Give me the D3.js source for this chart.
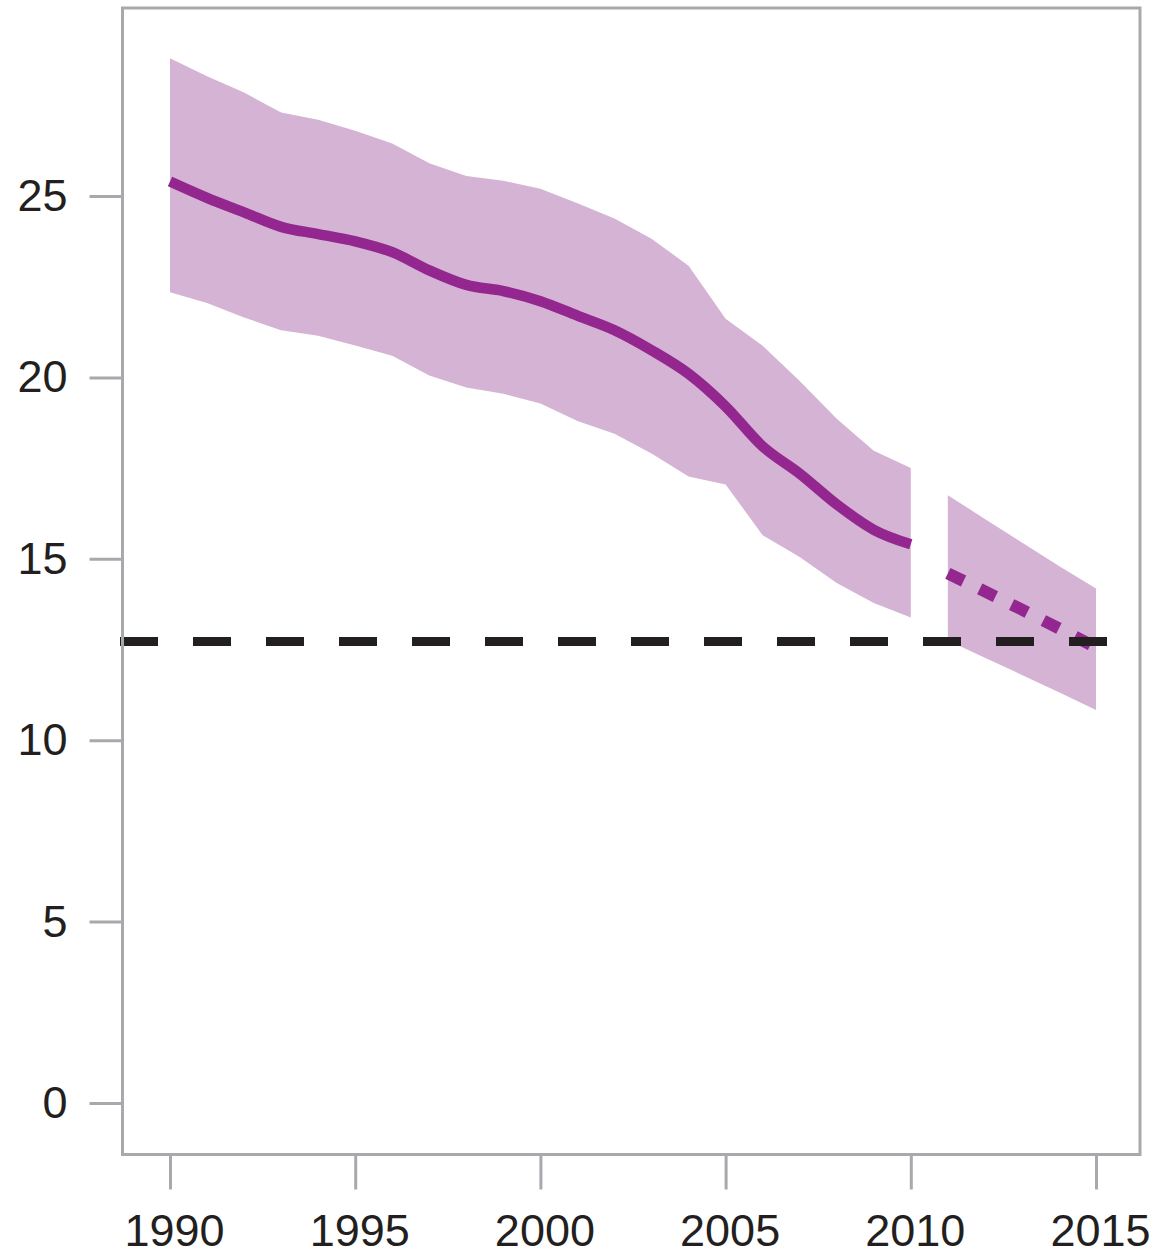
<!DOCTYPE html>
<html><head><meta charset="utf-8">
<script src="https://cdn.jsdelivr.net/npm/d3@7"></script>
<style>body{margin:0;background:#fff}svg{display:block}</style>
</head><body><div id="chart"></div>
<script>
// Data
const years = [1990,1991,1992,1993,1994,1995,1996,1997,1998,1999,2000,2001,2002,2003,2004,2005,2006,2007,2008,2009,2010];
const estimate = [25.4,24.95,24.55,24.15,23.95,23.75,23.45,22.95,22.55,22.38,22.1,21.7,21.3,20.75,20.1,19.2,18.1,17.35,16.5,15.8,15.4];
const upper = [28.8,28.3,27.85,27.3,27.1,26.8,26.45,25.9,25.55,25.42,25.2,24.8,24.38,23.82,23.08,21.62,20.87,19.9,18.86,17.98,17.5];
const lower = [22.35,22.05,21.65,21.3,21.15,20.88,20.6,20.05,19.72,19.55,19.28,18.8,18.45,17.9,17.27,17.05,15.65,15.05,14.33,13.78,13.38];
const projYears = [2011,2012,2013,2014,2015];
const projection = [14.6,14.1,13.6,13.08,12.56];
const projUpper = [16.75,16.1,15.45,14.8,14.18];
const projLower = [12.75,12.27,11.8,11.32,10.83];
const target = 12.72;
const yTicks = [0,5,10,15,20,25];
const xTicks = [1990,1995,2000,2005,2010,2015];

const W = 1157, H = 1258;
const svg = d3.select("#chart").append("svg").attr("width", W).attr("height", H);

const x = d3.scaleLinear().domain([1990, 2015]).range([170, 1096]);
const y = d3.scaleLinear().domain([0, 25]).range([1103, 196]);

const box = {l:122.5, t:8, r:1140, b:1154.5};
const axisCol = "#a7a9ac";
const textCol = "#231f20";
const font = "'Liberation Sans', Arial, sans-serif";

// bands
const area = d3.area().x(d => x(d.x)).y0(d => y(d.lo)).y1(d => y(d.hi)).curve(d3.curveLinear);
const band1 = years.map((yr,i) => ({x:yr, lo:lower[i], hi:upper[i]}));
const band2 = projYears.map((yr,i) => ({x:yr, lo:projLower[i], hi:projUpper[i]}));
svg.append("path").datum(band1).attr("d", area).attr("fill", "#d5b3d4");
svg.append("path").datum(band2).attr("d", area).attr("fill", "#d5b3d4");

// lines
const line = d3.line().x(d => x(d.x)).y(d => y(d.v)).curve(d3.curveMonotoneX);
svg.append("path").datum(years.map((yr,i)=>({x:yr,v:estimate[i]})))
  .attr("d", line).attr("fill","none").attr("stroke","#93278f").attr("stroke-width",10.5);
svg.append("path").datum(projYears.map((yr,i)=>({x:yr,v:projection[i]})))
  .attr("d", d3.line().x(d=>x(d.x)).y(d=>y(d.v)))
  .attr("fill","none").attr("stroke","#93278f").attr("stroke-width",12)
  .attr("stroke-dasharray","17.5 18");

// target dashed line
svg.append("line").attr("x1",120).attr("x2",1110).attr("y1",y(target)).attr("y2",y(target))
  .attr("stroke",textCol).attr("stroke-width",9).attr("stroke-dasharray","38 35");

// box
svg.append("rect").attr("x",box.l).attr("y",box.t).attr("width",box.r-box.l).attr("height",box.b-box.t)
  .attr("fill","none").attr("stroke",axisCol).attr("stroke-width",3);

// axes
const yAxis = svg.append("g").attr("transform",`translate(${box.l},0)`)
  .call(d3.axisLeft(y).tickValues(yTicks).tickSize(33).tickPadding(22).tickFormat(d3.format("d")));
const xAxis = svg.append("g").attr("transform",`translate(0,${box.b})`)
  .call(d3.axisBottom(x).tickValues(xTicks).tickSize(35).tickPadding(25).tickFormat(d3.format("d")));
[yAxis, xAxis].forEach(g => {
  g.select(".domain").remove();
  g.selectAll(".tick line").attr("stroke",axisCol).attr("stroke-width",3);
  g.selectAll(".tick text").attr("fill",textCol).style("font-family",font).style("font-size","45px");
});
xAxis.selectAll(".tick text").attr("dx", 4);
</script></body></html>
